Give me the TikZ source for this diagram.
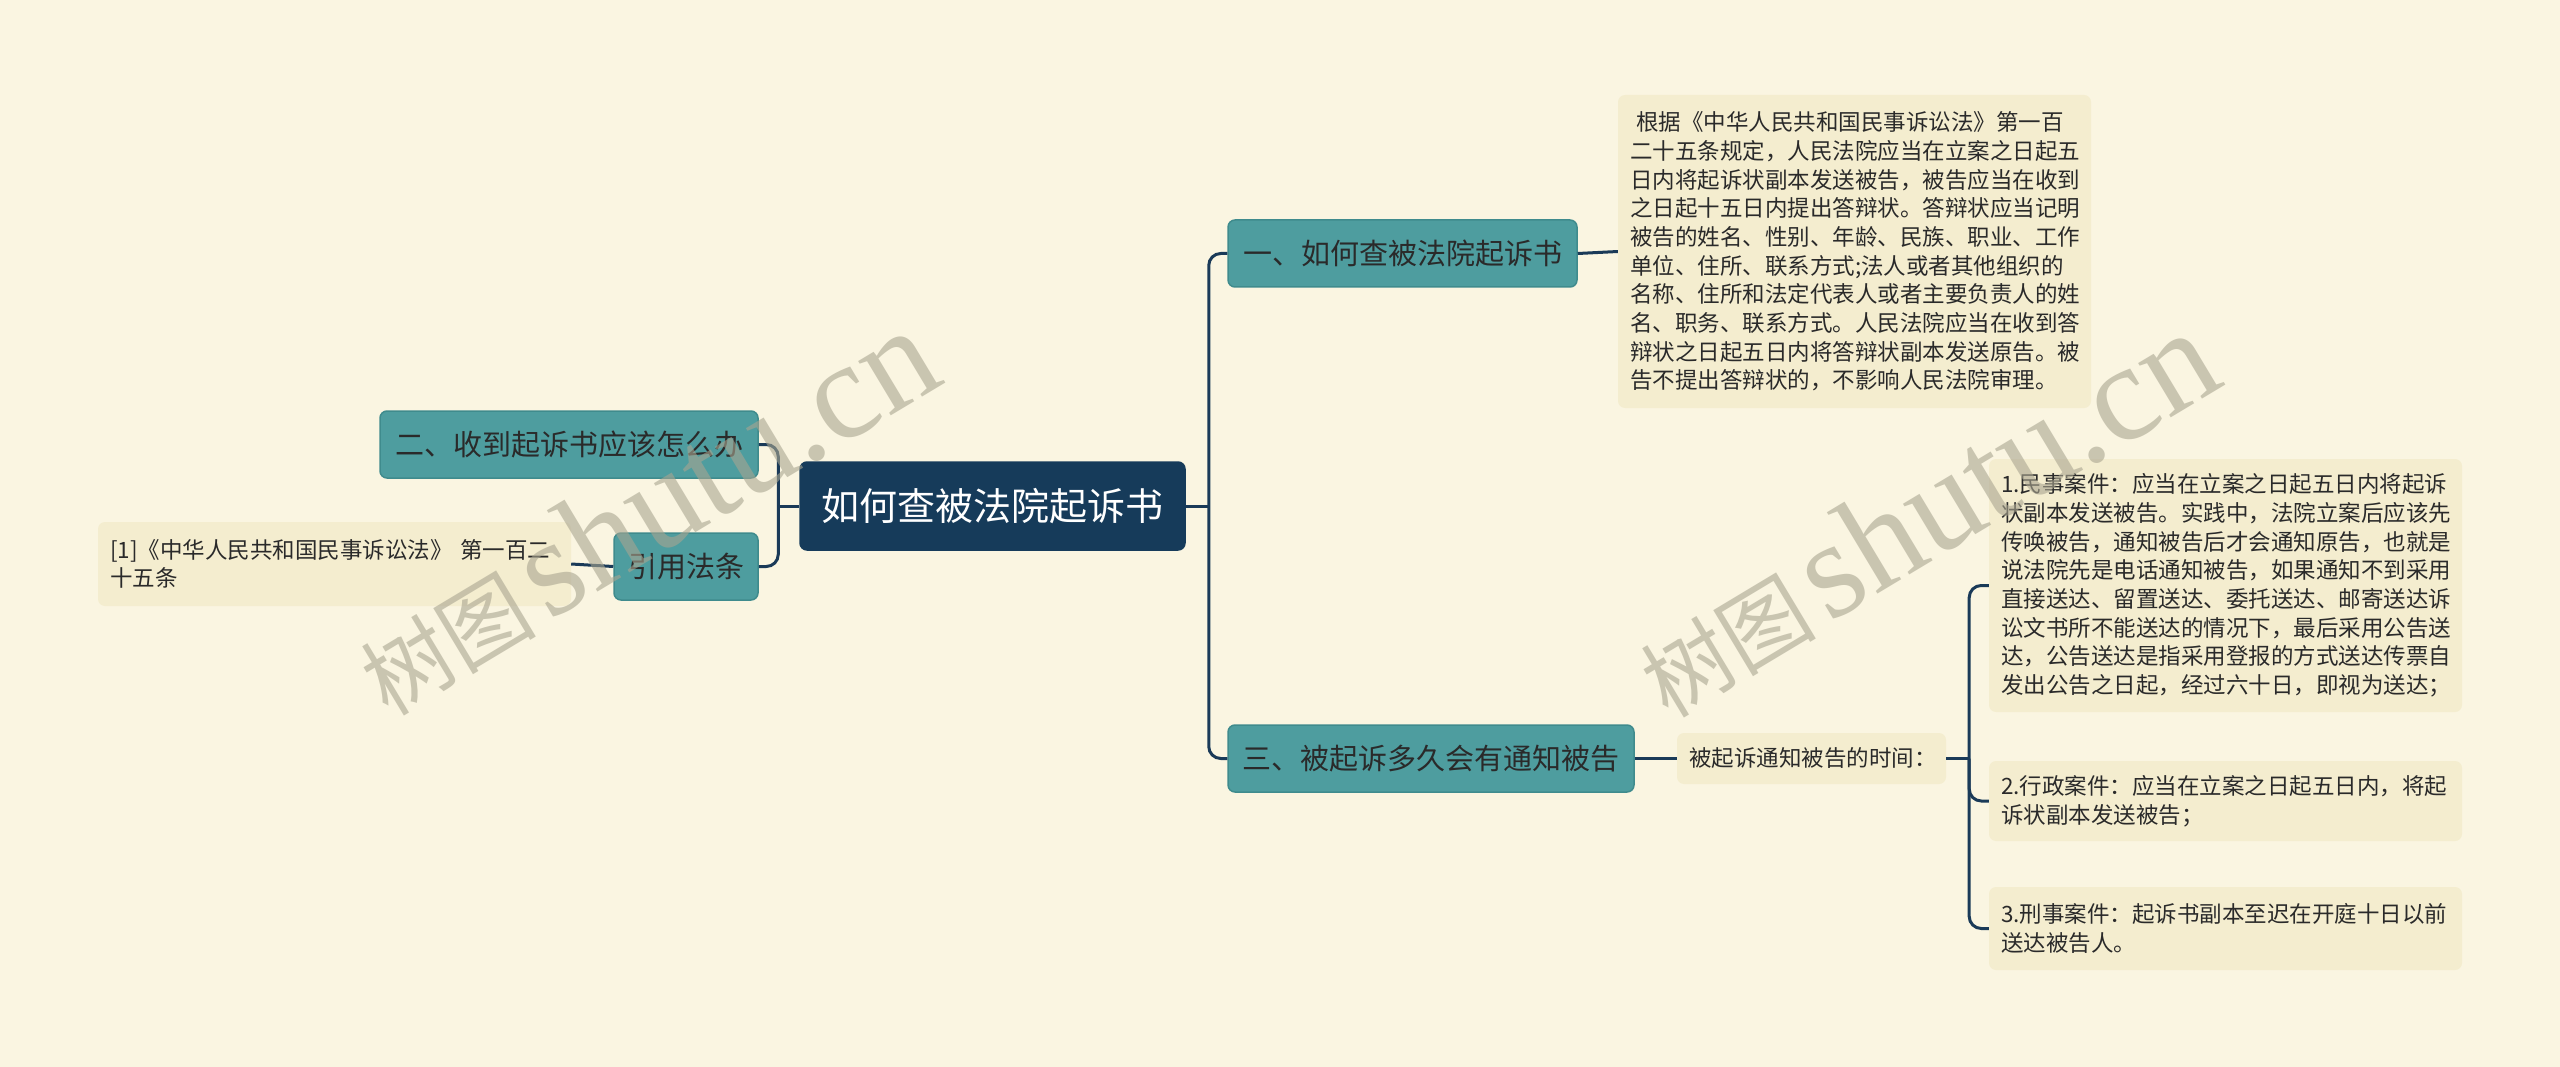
\documentclass[tikz,border=0pt]{standalone}
\usepackage{fontspec}
\setmainfont{Noto Sans CJK SC}
\newfontfamily\wmlatin{Liberation Serif}
\newfontfamily\wmcjk{Noto Sans CJK SC}
\definecolor{bgcol}{HTML}{FAF5E1}
\definecolor{notecol}{HTML}{F4EDCF}
\definecolor{tealcol}{HTML}{4E9D9F}
\definecolor{tealborder}{HTML}{3F8B8D}
\definecolor{rootcol}{HTML}{163B5A}
\definecolor{linecol}{HTML}{1A3A58}
\definecolor{txtdark}{HTML}{2A2A2A}
\definecolor{wmcol}{HTML}{A9A590}
\begin{document}
\begin{tikzpicture}[x=1pt,y=-1pt,
  rootbox/.style={rectangle, rounded corners=7pt, fill=rootcol, draw=rootcol, line width=1.5pt,
    text=white, font=\fontsize{38}{46}\selectfont, minimum width=385pt, minimum height=88pt, inner sep=0pt},
  branchbox/.style={rectangle, rounded corners=7pt, fill=tealcol, draw=tealborder, line width=1.5pt,
    text=txtdark, font=\fontsize{29}{35}\selectfont, minimum height=67pt, inner sep=0pt},
  notebox/.style={rectangle, rounded corners=7pt, fill=notecol, text=txtdark,
    font=\fontsize{22.5}{28.7}\selectfont, align=left, inner xsep=12pt, inner ysep=0pt},
  conn/.style={draw=linecol, line width=3pt, rounded corners=12pt},
  wmark/.style={rotate=31, text=wmcol, text opacity=0.6, inner sep=0pt}
]
\fill[bgcol] (0,0) rectangle (2560,1067);
\useasboundingbox (0,0) rectangle (2560,1067);

% nodes
\node[rootbox] (root) at (992.5,506) {如何查被法院起诉书};
\node[branchbox, minimum width=349pt] (b1) at (1402.5,253.5) {一、如何查被法院起诉书};
\node[branchbox, minimum width=406pt] (b3) at (1431,758.5) {三、被起诉多久会有通知被告};
\node[branchbox, minimum width=378pt] (b2) at (569,444.5) {二、收到起诉书应该怎么办};
\node[branchbox, minimum width=144pt] (cite) at (686,566.5) {引用法条};

\node[notebox, text width=449pt, minimum height=313pt] (t1) at (1854.5,251.5) {%
\hspace*{6pt}根据《中华人民共和国民事诉讼法》第一百\\
二十五条规定，人民法院应当在立案之日起五\\
日内将起诉状副本发送被告，被告应当在收到\\
之日起十五日内提出答辩状。答辩状应当记明\\
被告的姓名、性别、年龄、民族、职业、工作\\
单位、住所、联系方式;法人或者其他组织的\\
名称、住所和法定代表人或者主要负责人的姓\\
名、职务、联系方式。人民法院应当在收到答\\
辩状之日起五日内将答辩状副本发送原告。被\\
告不提出答辩状的，不影响人民法院审理。};

\node[notebox, text width=449pt, minimum height=84pt] (ref) at (334.5,564) {%
[1]《中华人民共和国民事诉讼法》 第一百二\\
十五条};

\node[notebox, text width=245pt, minimum height=51pt] (time) at (1811.5,758.5) {被起诉通知被告的时间：};

\node[notebox, text width=449pt, minimum height=253pt] (i1) at (2225.5,585.5) {%
1.民事案件：应当在立案之日起五日内将起诉\\
状副本发送被告。实践中，法院立案后应该先\\
传唤被告，通知被告后才会通知原告，也就是\\
说法院先是电话通知被告，如果通知不到采用\\
直接送达、留置送达、委托送达、邮寄送达诉\\
讼文书所不能送达的情况下，最后采用公告送\\
达，公告送达是指采用登报的方式送达传票自\\
发出公告之日起，经过六十日，即视为送达；};

\node[notebox, text width=449pt, minimum height=80pt] (i2) at (2225.5,801) {%
2.行政案件：应当在立案之日起五日内，将起\\
诉状副本发送被告；};

\node[notebox, text width=449pt, minimum height=83pt] (i3) at (2225.5,928.5) {%
3.刑事案件：起诉书副本至迟在开庭十日以前\\
送达被告人。};

% connectors
\draw[conn] (root.east) -- ++(23,0) coordinate (jr);
\draw[conn] (b1.west) -| (jr) |- (b3.west);
\draw[conn] (root.west) -- ++(-21,0) coordinate (jl);
\draw[conn] (b2.east) -| (jl) |- (cite.east);
\draw[conn] (cite.west) -- (ref.east);
\draw[conn] (b1.east) -- (t1.west);
\draw[conn] (b3.east) -- (time.west);
\draw[conn] (time.east) -- ++(23,0) coordinate (jt);
\draw[conn] (i1.west) -| (jt) |- (i3.west);
\draw[conn] (jt) |- (i2.west);

% watermarks
\node[wmark] (wm1) at (645,512) {{\wmcjk\fontsize{88}{92}\selectfont 树图}\hspace{12pt}{\wmlatin\fontsize{138}{142}\selectfont shutu.cn}};
\node[wmark] (wm2) at (1925,514) {{\wmcjk\fontsize{88}{92}\selectfont 树图}\hspace{12pt}{\wmlatin\fontsize{138}{142}\selectfont shutu.cn}};
\end{tikzpicture}
\end{document}
